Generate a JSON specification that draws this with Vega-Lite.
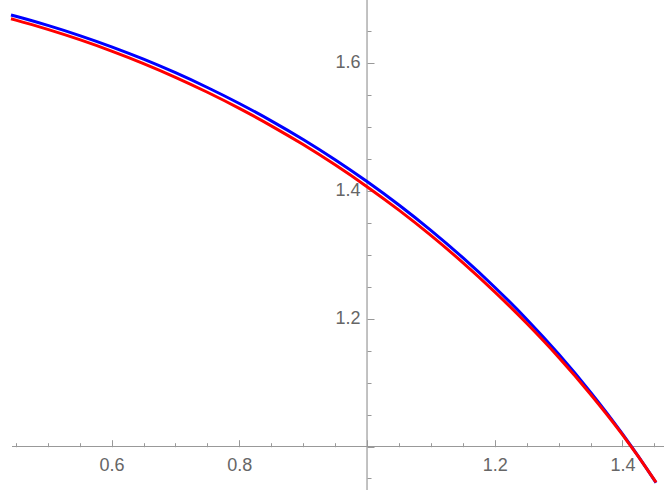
{
  "$schema": "https://vega.github.io/schema/vega-lite/v6.json",
  "width": 664,
  "height": 490,
  "autosize": "none",
  "padding": 0,
  "background": "white",
  "config": {
    "view": {"stroke": null},
    "axis": {
      "grid": false,
      "title": null,
      "labelFont": "Liberation Sans",
      "labelFontSize": 18,
      "labelColor": "#666666",
      "tickColor": "#999999",
      "tickWidth": 1,
      "domain": false
    }
  },
  "datasets": {
    "curves": [
      {"x": 0.4424, "y": 1.6746, "series": "blue"},
      {"x": 0.45, "y": 1.6726, "series": "blue"},
      {"x": 0.5, "y": 1.6583, "series": "blue"},
      {"x": 0.55, "y": 1.6424, "series": "blue"},
      {"x": 0.6, "y": 1.6248, "series": "blue"},
      {"x": 0.65, "y": 1.6055, "series": "blue"},
      {"x": 0.7, "y": 1.5843, "series": "blue"},
      {"x": 0.75, "y": 1.5612, "series": "blue"},
      {"x": 0.8, "y": 1.5362, "series": "blue"},
      {"x": 0.85, "y": 1.5091, "series": "blue"},
      {"x": 0.9, "y": 1.4799, "series": "blue"},
      {"x": 0.95, "y": 1.4483, "series": "blue"},
      {"x": 1.0, "y": 1.4142, "series": "blue"},
      {"x": 1.05, "y": 1.3775, "series": "blue"},
      {"x": 1.1, "y": 1.3379, "series": "blue"},
      {"x": 1.15, "y": 1.2952, "series": "blue"},
      {"x": 1.2, "y": 1.249, "series": "blue"},
      {"x": 1.25, "y": 1.199, "series": "blue"},
      {"x": 1.3, "y": 1.1446, "series": "blue"},
      {"x": 1.35, "y": 1.0851, "series": "blue"},
      {"x": 1.4, "y": 1.0198, "series": "blue"},
      {"x": 1.45, "y": 0.9474, "series": "blue"},
      {"x": 1.4526, "y": 0.9434, "series": "blue"},
      {"x": 0.4424, "y": 1.6686, "series": "red"},
      {"x": 0.45, "y": 1.6666, "series": "red"},
      {"x": 0.5, "y": 1.6521, "series": "red"},
      {"x": 0.55, "y": 1.636, "series": "red"},
      {"x": 0.6, "y": 1.6182, "series": "red"},
      {"x": 0.65, "y": 1.5987, "series": "red"},
      {"x": 0.7, "y": 1.5772, "series": "red"},
      {"x": 0.75, "y": 1.5538, "series": "red"},
      {"x": 0.8, "y": 1.5286, "series": "red"},
      {"x": 0.85, "y": 1.5013, "series": "red"},
      {"x": 0.9, "y": 1.472, "series": "red"},
      {"x": 0.95, "y": 1.4403, "series": "red"},
      {"x": 1.0, "y": 1.4062, "series": "red"},
      {"x": 1.05, "y": 1.3695, "series": "red"},
      {"x": 1.1, "y": 1.33, "series": "red"},
      {"x": 1.15, "y": 1.2875, "series": "red"},
      {"x": 1.2, "y": 1.2418, "series": "red"},
      {"x": 1.25, "y": 1.1926, "series": "red"},
      {"x": 1.3, "y": 1.1396, "series": "red"},
      {"x": 1.35, "y": 1.0818, "series": "red"},
      {"x": 1.4, "y": 1.0186, "series": "red"},
      {"x": 1.45, "y": 0.9479, "series": "red"},
      {"x": 1.4526, "y": 0.944, "series": "red"}
    ],
    "axislines": [
      {"x": 0.444, "x2": 1.4651, "y": 1.0, "y2": 1.0},
      {"x": 1.0, "x2": 1.0, "y": 0.932, "y2": 1.698}
    ]
  },
  "layer": [
    {
      "data": {"name": "axislines"},
      "mark": {"type": "rule", "color": "#999999", "strokeWidth": 1.2},
      "encoding": {
        "x": {
          "field": "x", "type": "quantitative",
          "scale": {"domain": [0.4252, 1.4651], "nice": false, "zero": false},
          "axis": {"orient": "top", "offset": -446.7, "values": [0.45, 0.5, 0.55, 0.65, 0.7, 0.75, 0.85, 0.9, 0.95, 1.05, 1.1, 1.15, 1.25, 1.3, 1.35, 1.45], "labels": false, "tickSize": 4}
        },
        "x2": {"field": "x2"},
        "y": {
          "field": "y", "type": "quantitative",
          "scale": {"domain": [0.932, 1.698], "nice": false, "zero": false},
          "axis": {"orient": "right", "offset": -297, "values": [0.95, 1.05, 1.1, 1.15, 1.25, 1.3, 1.35, 1.45, 1.5, 1.55, 1.65], "labels": false, "tickSize": 4}
        },
        "y2": {"field": "y2"}
      }
    },
    {
      "data": {"name": "curves"},
      "transform": [{"filter": "datum.series === 'blue'"}],
      "mark": {"type": "line", "color": "#0000ff", "strokeWidth": 3, "interpolate": "monotone", "clip": true},
      "encoding": {
        "x": {
          "field": "x", "type": "quantitative",
          "axis": {"orient": "top", "offset": -446.7, "values": [0.6, 0.8, 1.0, 1.2, 1.4], "labels": false, "tickSize": 7}
        },
        "y": {
          "field": "y", "type": "quantitative",
          "axis": {"orient": "right", "offset": -297, "values": [1.0, 1.2, 1.4, 1.6], "labels": false, "tickSize": 7}
        }
      }
    },
    {
      "data": {"name": "curves"},
      "transform": [{"filter": "datum.series === 'red'"}],
      "mark": {"type": "line", "color": "#ff0000", "strokeWidth": 3, "interpolate": "monotone", "clip": true},
      "encoding": {
        "x": {
          "field": "x", "type": "quantitative",
          "axis": {"orient": "bottom", "offset": -43.3, "values": [0.6, 0.8, 1.2, 1.4], "format": ".1f", "ticks": false, "labelPadding": 10}
        },
        "y": {
          "field": "y", "type": "quantitative",
          "axis": {"orient": "left", "offset": -367, "values": [1.2, 1.4, 1.6], "format": ".1f", "ticks": false, "labelPadding": 7}
        }
      }
    }
  ],
  "resolve": {
    "scale": {"x": "shared", "y": "shared"},
    "axis": {"x": "independent", "y": "independent"}
  }
}
